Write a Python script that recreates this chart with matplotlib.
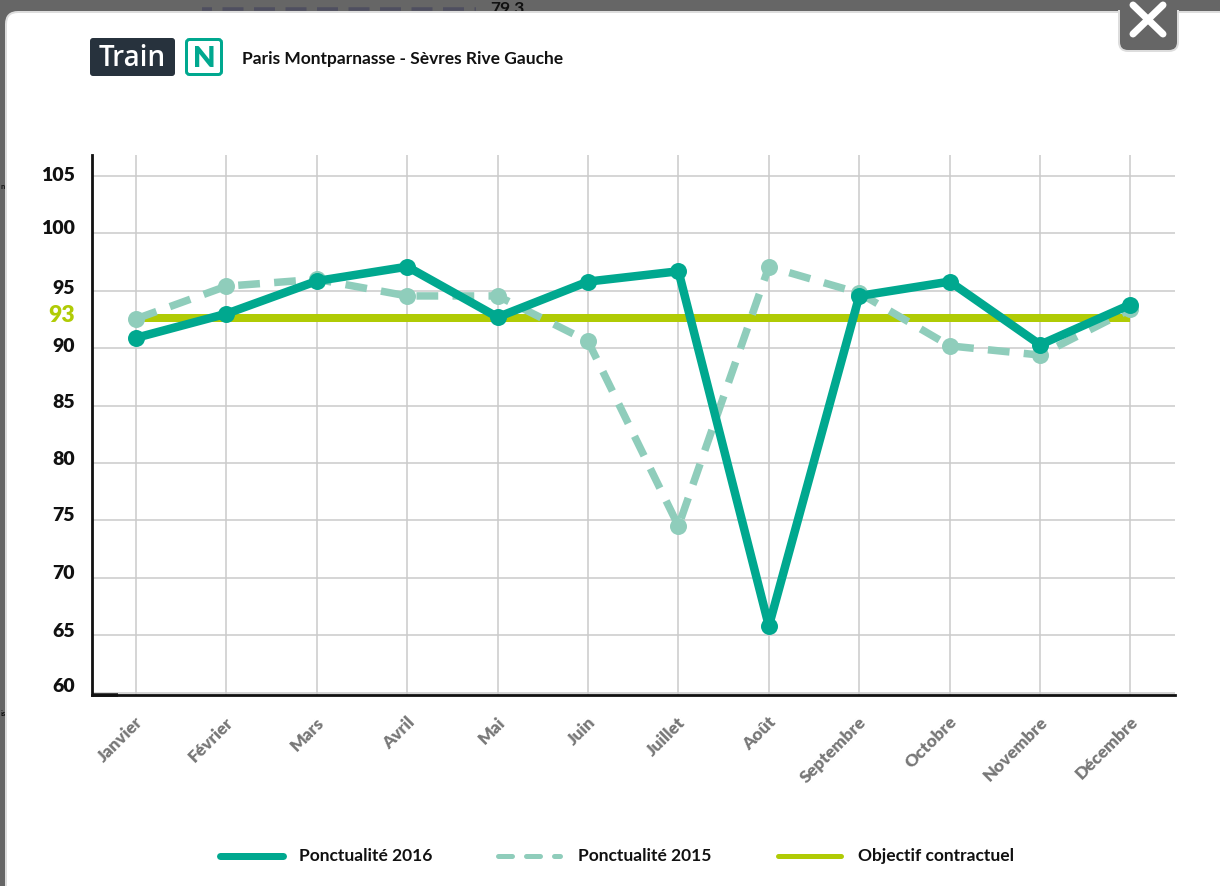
import matplotlib
matplotlib.use("Agg")
import matplotlib.pyplot as plt
from matplotlib.patches import FancyBboxPatch
from matplotlib.transforms import ScaledTranslation

months = ["Janvier", "Février", "Mars", "Avril", "Mai", "Juin", "Juillet", "Août",
          "Septembre", "Octobre", "Novembre", "Décembre"]
ponct_2016 = [90.9, 93.0, 95.85, 97.1, 92.7, 95.8, 96.7, 65.8, 94.55, 95.8, 90.3, 93.8]
ponct_2015 = [92.55, 95.4, 96.0, 94.55, 94.55, 90.6, 74.5, 97.1, 94.8, 90.2, 89.4, 93.4]
objectif = [92.6] * 12
y_ticks = [60, 65, 70, 75, 80, 85, 90, 95, 100, 105]
y_label_shift = [7, 5, 6, 6, 5, 5, 3, 4, 6, 2]

C16 = "#00A88F"
C15 = "#8FCDBB"
COBJ = "#B0CB05"
GRID = "#CCCCCC"
FONT = "Lato"
W, H = 1220, 886
px = 0.72

fig = plt.figure(figsize=(W / 100, H / 100), dpi=100, facecolor="#666666")

# page layer in pixel coordinates
bg = fig.add_axes([0, 0, 1, 1], zorder=0)
bg.set_xlim(0, W)
bg.set_ylim(H, 0)
bg.axis("off")
bg.plot([191, 476], [8.5, 8.5], color="#4F4F60", lw=3.5 * px, dashes=(6, 3), zorder=1)
bg.fill_between([185, 202], 0, 11, color="#666666", lw=0, zorder=1.5)
bg.text(490, 9, "79,3", fontsize=12.5, family=FONT, weight="bold", color="#111111", va="center", zorder=1)
bg.text(0.5, 186, "n", fontsize=5.5, family=FONT, weight="bold", color="#111111", va="center", zorder=1)
bg.text(0.5, 714, "is", fontsize=5.5, family=FONT, weight="bold", color="#111111", va="center", zorder=1)
bg.add_patch(FancyBboxPatch((6, 12), 1400, 1100, boxstyle="round,pad=0,rounding_size=12",
                            fc="white", ec="#DDDDDD", lw=2 * px, zorder=2))
# close tab
bg.add_patch(FancyBboxPatch((1119, -20), 59, 71, boxstyle="round,pad=0,rounding_size=9",
                            fc="#666666", ec="#DDDDDD", lw=2 * px, zorder=3))
bg.fill_between([1116, 1181], -5, 10, color="#666666", lw=0, zorder=3)
bg.plot([1133, 1163], [34, 5], color="white", lw=7 * px, solid_capstyle="round", zorder=4)
bg.plot([1133, 1163], [5, 34], color="white", lw=7 * px, solid_capstyle="round", zorder=4)

# header
bg.add_patch(FancyBboxPatch((90, 38), 85, 38, boxstyle="round,pad=0,rounding_size=3",
                            fc="#27323D", ec="none", zorder=3))
bg.text(132.5, 58, "Train", color="white", fontsize=20, family="Open Sans", weight="semibold",
        ha="center", va="center", zorder=4)
bg.add_patch(FancyBboxPatch((186.5, 39.5), 35, 35, boxstyle="round,pad=0,rounding_size=3",
                            fc="white", ec=C16, lw=3 * px, zorder=3))
bg.text(204, 59, "N", color=C16, fontsize=21, family=FONT, weight="heavy", ha="center", va="center", zorder=4)
bg.text(242, 59, "Paris Montparnasse - Sèvres Rive Gauche", color="#111111", fontsize=12.5,
        family=FONT, weight="bold", va="center", zorder=4)

# chart
L, R, T, B = 91.5, 1175, 155, 694.5
ax = fig.add_axes([L / W, 1 - B / H, (R - L) / W, (B - T) / H], zorder=1)
ax.patch.set_alpha(0)
y60, y105 = 692.5, 176.0
per = (y60 - y105) / 45
ax.set_ylim(60 - (B - y60) / per, 105 + (y105 - T) / per)
x0, step = 136.0, (1131 - 136.5) / 11
ax.set_xlim((L - x0) / step, (R - x0) / step)

ax.grid(True, color=GRID, lw=1.6 * px, zorder=0)
ax.set_axisbelow(True)
for s in ("top", "right"):
    ax.spines[s].set_visible(False)
for s in ("left", "bottom"):
    ax.spines[s].set_color("#111111")
    ax.spines[s].set_linewidth(2.8 * px)

xs = list(range(len(months)))
ax.plot(xs, objectif, color=COBJ, lw=8 * px, solid_capstyle="butt", zorder=2, label="Objectif contractuel")
ax.plot(xs, ponct_2015, color=C15, lw=7.5 * px, dashes=(2.9, 1.9), marker="o", ms=17 * px, mew=0,
        zorder=3, label="Ponctualité 2015")
ax.plot(xs, ponct_2016, color=C16, lw=8.5 * px, marker="o", ms=17 * px, mew=0,
        solid_joinstyle="round", zorder=4, label="Ponctualité 2016")

ax.set_xticks(xs)
ax.set_xticklabels(months, rotation=45, ha="right", rotation_mode="anchor", family=FONT,
                   weight="heavy", fontsize=12.5, color="#777777")
ax.tick_params(axis="x", length=0, pad=14)
for lab in ax.get_xticklabels():
    lab.set_transform(lab.get_transform() + ScaledTranslation(-1 / 100, 0, fig.dpi_scale_trans))

ax.set_yticks(y_ticks)
ax.set_yticklabels([str(v) for v in y_ticks], family=FONT, weight="heavy", fontsize=14, color="#111111")
ax.tick_params(axis="y", length=0, pad=12)
for lab, s in zip(ax.get_yticklabels(), y_label_shift):
    lab.set_transform(lab.get_transform() + ScaledTranslation(0, s / 100, fig.dpi_scale_trans))

ax.text(-0.68, objectif[0] + 0.25, "93", color=COBJ, fontsize=16.5, family=FONT, weight="heavy",
        ha="right", va="center", clip_on=False)

# legend
fg = fig.add_axes([0, 0, 1, 1], zorder=2)
fg.set_xlim(0, W)
fg.set_ylim(H, 0)
fg.axis("off")
fg.plot([92, 118], [694.5, 694.5], color="#111111", lw=3.5 * px, solid_capstyle="butt")
fg.plot([220, 283], [855.5, 855.5], color=C16, lw=7 * px, solid_capstyle="round")
fg.plot([498, 560], [856, 856], color=C15, lw=5 * px, dashes=(2.8, 2.8), dash_capstyle="round")
fg.plot([778, 841], [856, 856], color=COBJ, lw=5 * px, solid_capstyle="round")
for x, t in [(299, "Ponctualité 2016"), (578, "Ponctualité 2015"), (858, "Objectif contractuel")]:
    fg.text(x, 856, t, color="#111111", fontsize=12.5, family=FONT, weight="bold", va="center")

fig.savefig("out.png", dpi=100, facecolor=fig.get_facecolor())
